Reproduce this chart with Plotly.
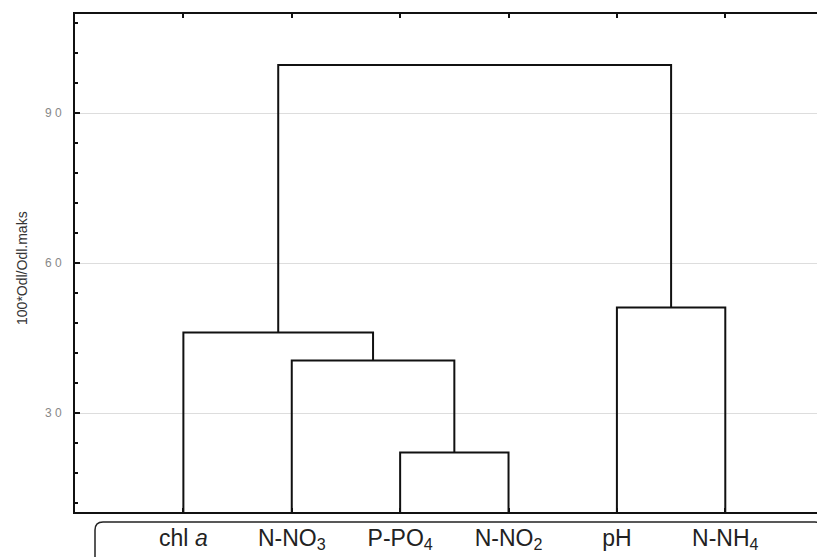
import plotly.graph_objects as go

# ---- data ----
leaves = ["chl <i>a</i>", "N-NO<sub>3</sub>", "P-PO<sub>4</sub>", "N-NO<sub>2</sub>", "pH", "N-NH<sub>4</sub>"]
leaf_pos = [1, 2, 3, 4, 5, 6]
# merges: (left node, right node, linkage distance); nodes 0..5 are leaves, 6.. are clusters
merge_left = [2, 1, 0, 4, 8]
merge_right = [3, 6, 7, 5, 9]
merge_height = [22.1, 40.5, 46.1, 51.1, 99.6]
y_tickvals = [30, 60, 90]
y_ticktext = ["3 0", "6 0", "9 0"]
y_title = "100*Odl/Odl.maks"

# ---- build dendrogram segments ----
node_x = {i: p for i, p in enumerate(leaf_pos)}
node_h = {i: 0.0 for i in range(len(leaf_pos))}
xs, ys = [], []
for k, (a, b, h) in enumerate(zip(merge_left, merge_right, merge_height)):
    xa, xb = node_x[a], node_x[b]
    xs += [xa, xa, xb, xb, None]
    ys += [node_h[a], h, h, node_h[b], None]
    nid = len(leaf_pos) + k
    node_x[nid] = (xa + xb) / 2
    node_h[nid] = h

fig = go.Figure()
fig.add_trace(go.Scatter(x=xs, y=ys, mode="lines",
                         line=dict(color="#111111", width=2),
                         hoverinfo="skip", showlegend=False))

# page body has an 8px default margin, so the figure is sized to end at the window edge
fig.update_layout(
    template="none",
    width=817, height=549,
    margin=dict(l=67, r=0, t=6, b=45, autoexpand=False),
    paper_bgcolor="white", plot_bgcolor="white",
    font=dict(family="Liberation Sans, Arial, sans-serif", color="#222"),
    showlegend=False,
)
fig.update_xaxes(
    automargin=False,
    range=[0, 6.92], tickmode="array", tickvals=leaf_pos, ticktext=leaves,
    showgrid=False, zeroline=False,
    showline=True, linecolor="#111", linewidth=2, mirror="ticks",
    ticks="inside", ticklen=4, tickcolor="#111", tickwidth=1.5,
    tickfont=dict(size=23, color="#222"), ticklabelstandoff=4,
)
fig.update_yaxes(
    automargin=False,
    range=[10.2, 109.8], tickmode="array", tickvals=y_tickvals, ticktext=y_ticktext,
    showgrid=True, gridcolor="#dddddd", gridwidth=1, zeroline=False,
    showline=True, linecolor="#111", linewidth=2,
    ticks="inside", ticklen=5, tickcolor="#111", tickwidth=1.5,
    tickfont=dict(size=12, color="#888"), ticklabelstandoff=9,
    minor=dict(ticks="inside", ticklen=3, tickcolor="#111", tick0=0, dtick=6, showgrid=False),
)
fig.add_annotation(text=y_title, textangle=-90, xref="paper", yref="paper",
                   x=0, y=0.49, xshift=-53, xanchor="center", yanchor="middle",
                   showarrow=False, font=dict(size=14, color="#333"))
fig.add_shape(type="path", xref="paper", yref="paper",
              xsizemode="pixel", ysizemode="pixel", xanchor=0, yanchor=0,
              path="M 20,-70 L 20,-18 Q 20,-10 28,-10 L 740,-10 Q 748,-10 748,-18 L 748,-70",
              line=dict(color="#222", width=1.5))

fig.write_html("out.html")
